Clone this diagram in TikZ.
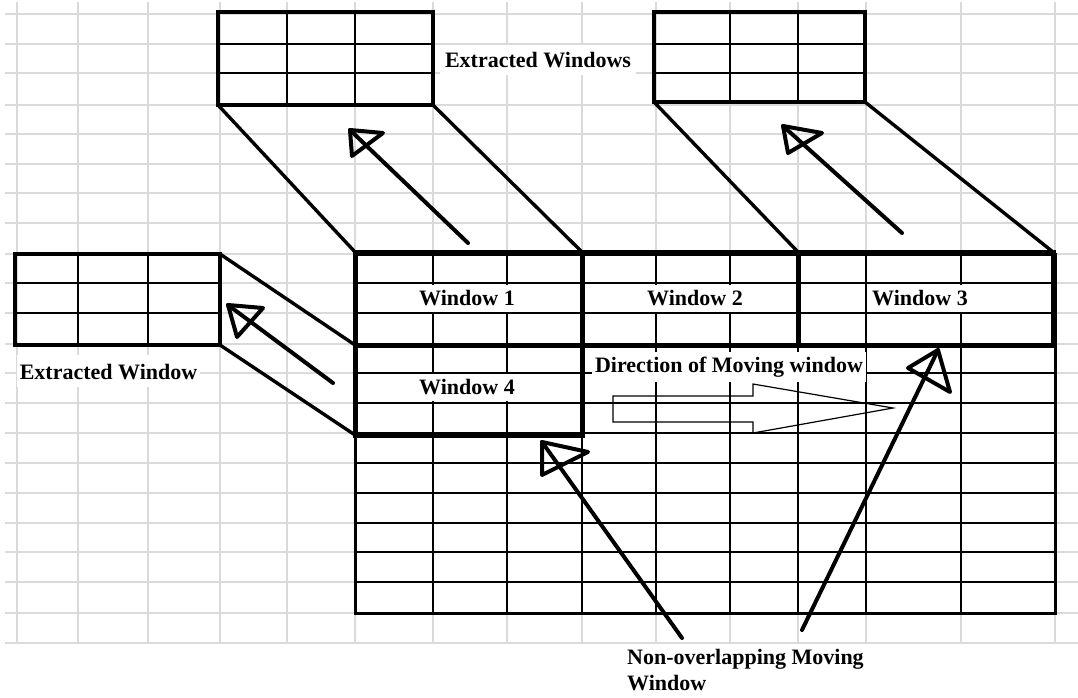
\documentclass[tikz,border=0pt]{standalone}
\usepackage{fontspec}
\setmainfont{Liberation Serif}
\definecolor{gridgrey}{HTML}{DADADA}
\newcommand\lblfont{\bfseries\fontsize{22}{26}\selectfont}
\begin{document}
\begin{tikzpicture}[x=1pt,y=-1pt,
  greyline/.style={draw=gridgrey, line width=1.6pt},
  thinblack/.style={line width=1.6pt},
  frame/.style={draw, line width=5pt, rectangle, inner sep=0pt, outer sep=0pt},
  exframe/.style={draw, line width=4.5pt, rectangle, inner sep=0pt, outer sep=0pt},
  link/.style={line width=3.4pt, line cap=round},
  hand/.style={line width=4pt, line cap=round, line join=round},
  lbl/.style={font=\lblfont, fill=white, inner xsep=3pt, inner ysep=3pt, text height=17pt, text depth=4pt, anchor=base},
  plain/.style={font=\lblfont, anchor=base west, inner sep=0pt}
]
\useasboundingbox[fill=white] (0,0) rectangle (1078,698);

% spreadsheet grid
\foreach \c in {17,78,148,220,287,355,433,507,582,656,730,798,866,961,1055}
  \draw[greyline] (\c,2) -- (\c,643);
\foreach \r in {14,44,73,105,134,164,193,223,254,283,313,344,373,403,433,463,493,523,552,582,613,643}
  \draw[greyline] (5,\r) -- (1078,\r);

% main black grid
\foreach \c in {433,507,582,656,730,798,866,961}
  \draw[thinblack] (\c,254) -- (\c,613);
\foreach \r in {283,313,344,373,403,433,463,493,523,552,582}
  \draw[thinblack] (355,\r) -- (1055,\r);
\draw[line width=3pt] (355,254) rectangle (1055,613);

% extracted windows inner lines
\foreach \c in {287,355} \draw[thinblack] (\c,12) -- (\c,105);
\foreach \r in {44,73} \draw[thinblack] (218,\r) -- (433,\r);
\foreach \c in {730,798} \draw[thinblack] (\c,12) -- (\c,102);
\foreach \r in {44,73} \draw[thinblack] (654,\r) -- (865,\r);
\foreach \c in {78,148} \draw[thinblack] (\c,254) -- (\c,345);
\foreach \r in {283,313} \draw[thinblack] (15,\r) -- (220,\r);

% window frames
\node[frame, minimum width=227pt, minimum height=93pt] (w1) at (468.5,298.5) {};
\node[frame, minimum width=216pt, minimum height=93pt] (w2) at (690,298.5) {};
\node[frame, minimum width=255pt, minimum height=93pt] (w3) at (925.5,298.5) {};
\node[frame, minimum width=227pt, minimum height=90pt] (w4) at (468.5,390) {};

% extracted window frames
\node[exframe, minimum width=215pt, minimum height=93pt] (e1) at (325.5,58.5) {};
\node[exframe, minimum width=211pt, minimum height=90pt] (e2) at (759.5,57) {};
\node[exframe, minimum width=205pt, minimum height=91pt] (e3) at (117.5,299.5) {};

% connectors
\draw[link] (e1.south west) -- (w1.north west);
\draw[link] (e1.south east) -- (w1.north east);
\draw[link] (e2.south west) -- (w3.north west);
\draw[link] (e2.south east) -- (w3.north east);
\draw[link] (e3.north east) -- (w4.north west);
\draw[link] (e3.south east) -- (w4.south west);

% hand-drawn arrows
\coordinate (a1s) at (468,243); \coordinate (a1t) at (350,130);
\draw[hand] (a1t) -- (383,133) -- (352,156) -- cycle;
\draw[hand] (a1s) -- (a1t);
\coordinate (a2s) at (902,233); \coordinate (a2t) at (783,126);
\draw[hand] (a2t) -- (822,133) -- (788,153) -- cycle;
\draw[hand] (a2s) -- (a2t);
\coordinate (a3s) at (333,383); \coordinate (a3t) at (228,305);
\draw[hand] (a3t) -- (263,308) -- (237,337) -- cycle;
\draw[hand] (a3s) -- (a3t);
\coordinate (a4s) at (682,638); \coordinate (a4t) at (542,442);
\draw[hand] (a4t) -- (588,452) -- (542,475) -- cycle;
\draw[hand] (a4s) -- (a4t);
\coordinate (a5s) at (802,630); \coordinate (a5t) at (938,350);
\draw[hand] (a5t) -- (908,368) -- (950,392) -- cycle;
\draw[hand] (a5s) -- (a5t);

% block arrow (direction)
\draw[line width=1.2pt] (613,396) -- (753,396) -- (753,384) -- (893,408)
  -- (753,433) -- (753,422) -- (613,422) -- cycle;

% labels
\node[lbl] (t1) at (467,305) {Window 1};
\node[lbl] (t2) at (695,305) {Window 2};
\node[lbl] (t3) at (920,305) {Window 3};
\node[lbl] (t4) at (467,394) {Window 4};
\node[lbl, inner xsep=5pt, text height=20pt, text depth=4pt] (te1) at (538,68) {Extracted Windows};
\node[lbl, text height=21pt, text depth=5pt] (te3) at (108.5,379) {Extracted Window};
\node[lbl, text height=17pt, text depth=7pt] (dir) at (729,372) {Direction of Moving window};
\node[plain] (nm1) at (627,664) {Non-overlapping Moving};
\node[plain] (nm2) at (627,690) {Window};
\end{tikzpicture}
\end{document}
